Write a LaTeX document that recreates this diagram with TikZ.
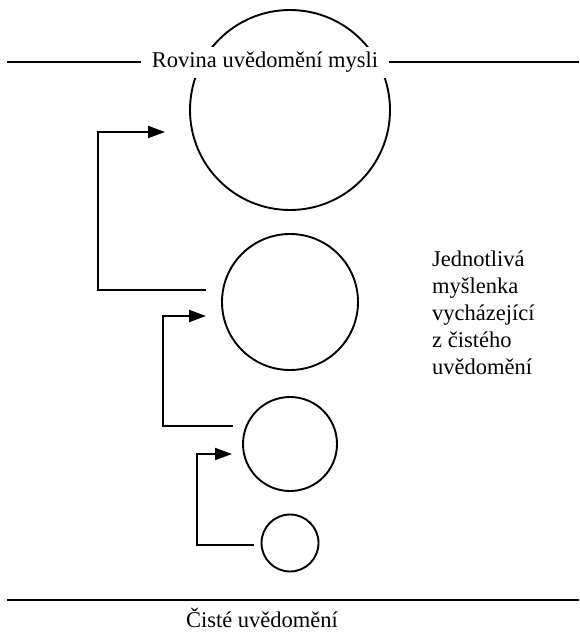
\documentclass[tikz,border=0pt]{standalone}
\usepackage{fontspec}
\setmainfont{Liberation Serif}
\usetikzlibrary{arrows.meta}
\begin{document}
\begin{tikzpicture}[x=1pt,y=-1pt,
  ring/.style={draw, circle, line width=1.9pt, inner sep=0pt},
  level/.style={line width=2.2pt},
  flow/.style={line width=1.9pt, -{Triangle[length=17pt,width=12pt]}},
  lbl/.style={font=\fontsize{22.5}{27}\selectfont, inner sep=0pt}]
\useasboundingbox (0,0) rectangle (579,636);

% plane of the mind's awareness
\coordinate (topL) at (7,62);
\coordinate (topR) at (579,62);
\draw[level] (topL) -- (topR);

% thoughts rising from pure awareness
\node[ring, minimum size=200pt] (c1) at (290,110) {};
\node[ring, minimum size=136pt] (c2) at (290,302) {};
\node[ring, minimum size=94pt]  (c3) at (290,444) {};
\node[ring, minimum size=57pt]  (c4) at (290,543) {};

\node[lbl, fill=white, inner xsep=11pt, inner ysep=5pt, anchor=base] (plane) at (265,68) {Rovina uvědomění mysli};

% feedback arrows
\coordinate (a1s) at (206,290);
\coordinate (a1e) at (165,132);
\draw[flow] (a1s) -- (98,290) |- (a1e);

\coordinate (a2s) at (233,426);
\coordinate (a2e) at (206,316);
\draw[flow] (a2s) -- (163,426) |- (a2e);

\coordinate (a3s) at (254,545);
\coordinate (a3e) at (232,454);
\draw[flow] (a3s) -- (197,545) |- (a3e);

% side note
\node[lbl, anchor=north west, align=left] (note) at (432,251)
  {Jednotlivá\\myšlenka\\vycházející\\z čistého\\uvědomění};

% ground of pure awareness
\coordinate (botL) at (7,600);
\coordinate (botR) at (579,600);
\draw[level] (botL) -- (botR);
\node[lbl, anchor=base] (ground) at (262,627) {Čisté uvědomění};
\end{tikzpicture}
\end{document}
